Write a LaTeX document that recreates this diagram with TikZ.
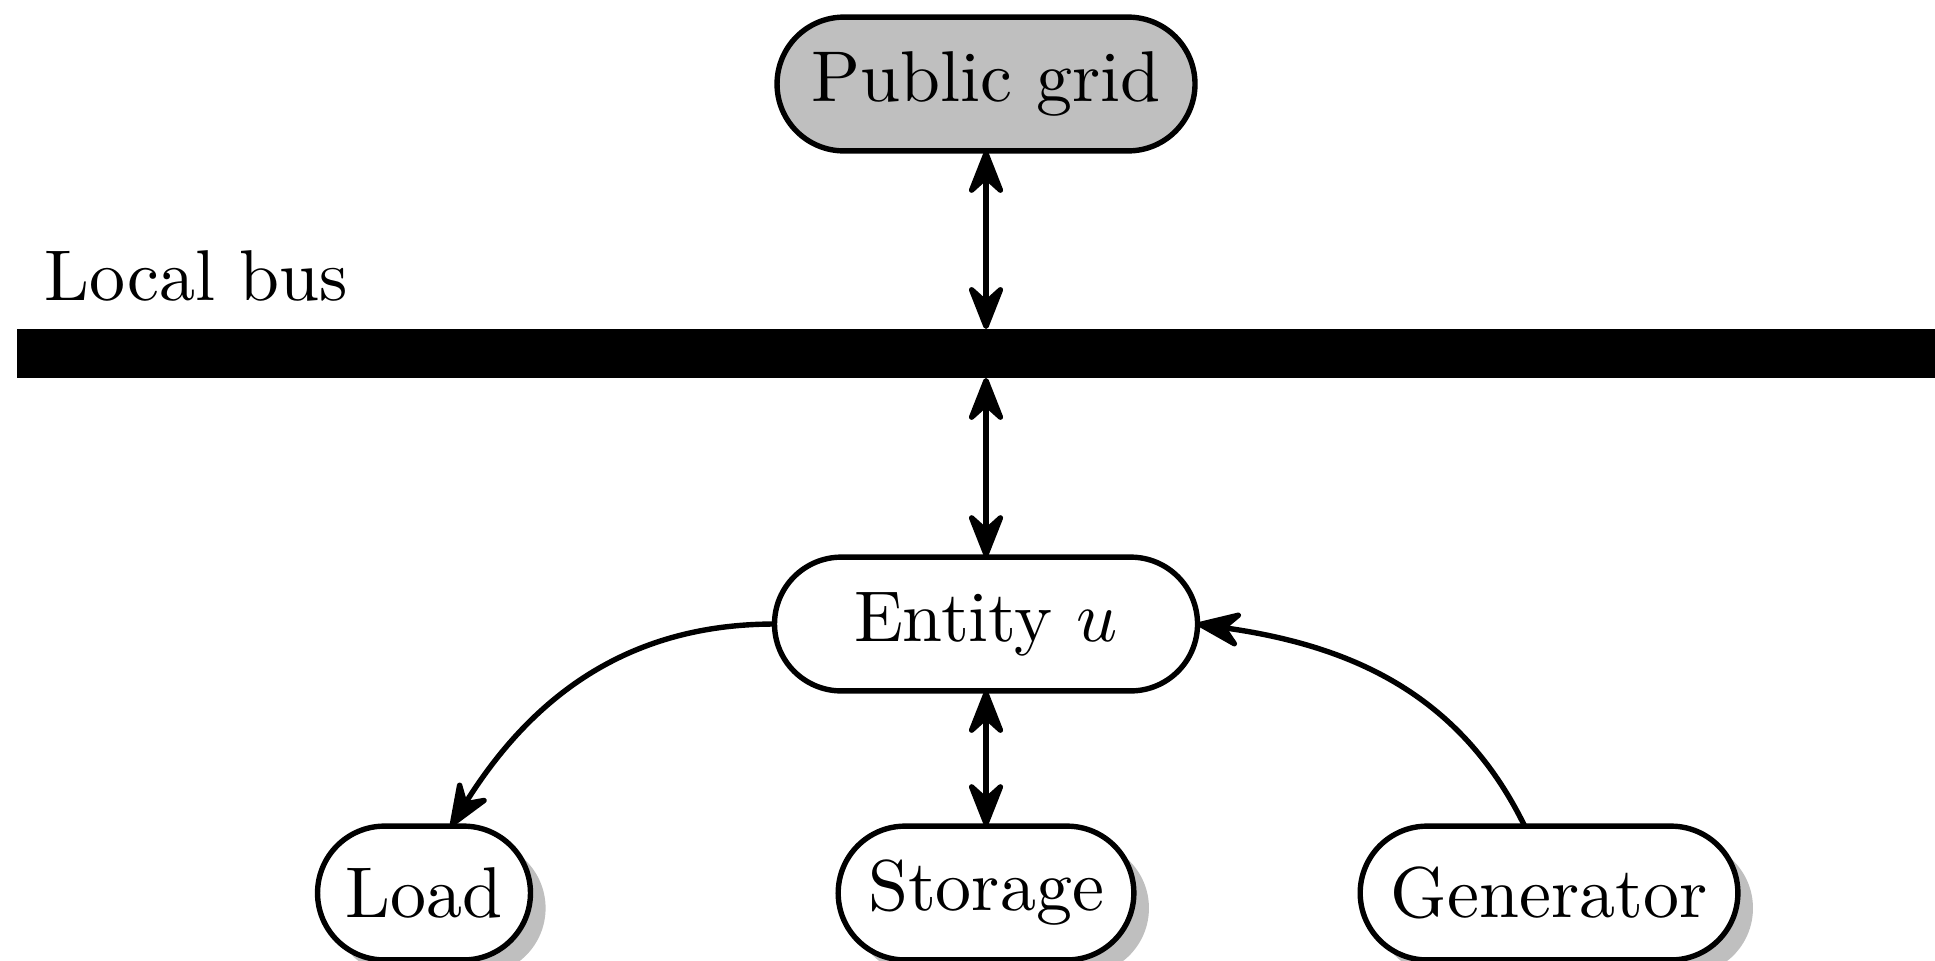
\documentclass[tikz,border=0pt]{standalone}
\usetikzlibrary{arrows.meta,shadows,calc}
\begin{document}
\begin{tikzpicture}[x=0.139pt,y=-0.139pt,
  box/.style={draw, line width=0.75pt, rounded corners=9.3pt, minimum height=18.6pt, inner sep=0pt, outer sep=0pt},
  shad/.style={drop shadow={fill=black!25, opacity=1, shadow xshift=2.1pt, shadow yshift=-2.1pt}},
  tip/.tip={Stealth[length=7.4pt, width=5.8pt, inset=2.6pt, round]},
  conn/.style={line width=0.75pt},
]
\useasboundingbox (0,0) rectangle (1935,960);
\node[box, fill=black!25, minimum width=58.1pt] (grid) at (986,84) {Public grid};
\node[anchor=base west, inner sep=0pt] (lbl) at (43,300) {Local bus};
\node[fill=black, inner sep=0pt, outer sep=0pt, minimum width=269pt, minimum height=6.8pt, anchor=north west] (bus) at (17,329) {};
\node[box, fill=white, minimum width=58.8pt] (ent) at (986,624) {Entity $u$};
\node[box, fill=white, shad, minimum width=29.6pt] (load) at (424,893) {Load};
\node[box, fill=white, shad, minimum width=41.1pt] (stor) at (986,893) {Storage};
\node[box, fill=white, shad, minimum width=52.5pt] (gen) at (1549,893) {Generator};
\draw[conn,tip-tip] (grid.south) -- (grid.south |- bus.north);
\draw[conn,tip-tip] (ent.north |- bus.south) -- (ent.north);
\draw[conn,tip-tip] (ent.south) -- (stor.north);
\draw[conn,-tip] (ent.west) to[out=180,in=58] (load.68);
\draw[conn,-tip] (gen.110) to[out=116,in=-8] (ent.east);
\end{tikzpicture}
\end{document}
